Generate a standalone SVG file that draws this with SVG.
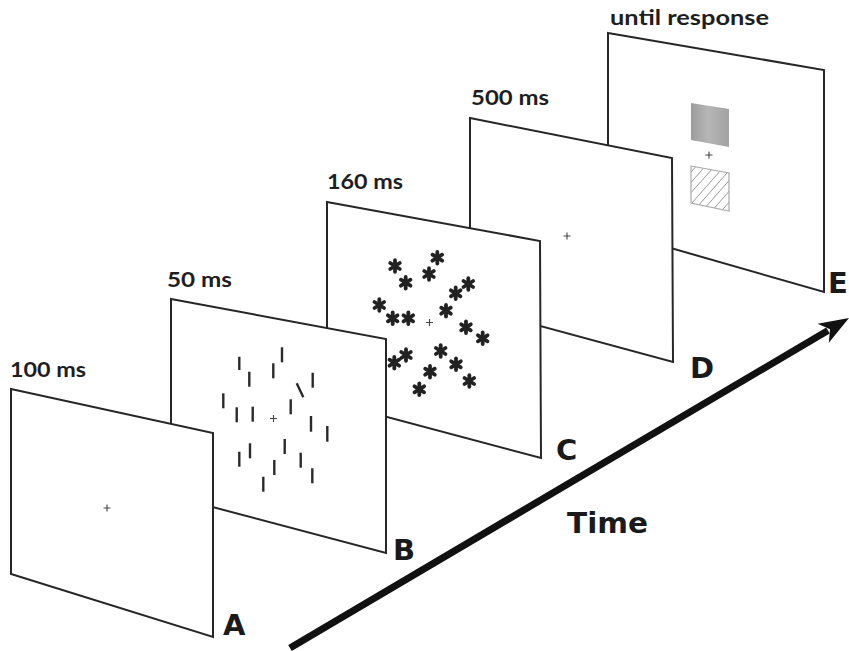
<svg xmlns="http://www.w3.org/2000/svg" width="849" height="651" viewBox="0 0 849 651">
<style>
.panel{fill:#fff;stroke:#262626;stroke-width:2;stroke-linejoin:miter}
.dur{font-family:Lato,"Open Sans","Liberation Sans",sans-serif;font-weight:bold;font-size:20px;fill:#1e1e1e}
.big{font-family:"DejaVu Sans","Liberation Sans",sans-serif;font-weight:bold;font-size:29px;fill:#1a1a1a}
.fix{stroke:#444;stroke-width:1.1;fill:none}
.bar{stroke:#2a2a2a;stroke-width:2.4;stroke-linecap:butt}
.ast{stroke:#222;stroke-width:3.8;stroke-linecap:round}
</style>
<defs>
<g id="star">
<line class="ast" x1="0" y1="-5.8" x2="0" y2="5.8"/>
<line class="ast" x1="-4.8" y1="-3" x2="4.8" y2="3"/>
<line class="ast" x1="-4.8" y1="3" x2="4.8" y2="-3"/>
</g>
<path id="cross" class="fix" d="M-3.5,0H3.5M0,-3.5V3.5"/>
<linearGradient id="grey" x1="0" y1="0" x2="1" y2="0">
<stop offset="0" stop-color="#9c9c9c"/>
<stop offset="0.45" stop-color="#b6b6b6"/>
<stop offset="1" stop-color="#a2a2a2"/>
</linearGradient>
<clipPath id="hclip"><polygon points="691,166 729,173 729,211 691,203"/></clipPath>
</defs>

<g id="panelE">
<polygon class="panel" points="608,33 824,70 824,292 608,230"/>
<polygon points="691,103 729,109 729,147 691,140" fill="url(#grey)"/>
<use href="#cross" x="709" y="155"/>
<g clip-path="url(#hclip)" stroke="#9a9a9a" stroke-width="1">
<line x1="680" y1="185" x2="710" y2="150"/>
<line x1="680" y1="195" x2="715" y2="155"/>
<line x1="680" y1="205" x2="722" y2="158"/>
<line x1="684" y1="212" x2="728" y2="162"/>
<line x1="690" y1="215" x2="734" y2="165"/>
<line x1="697" y1="217" x2="740" y2="168"/>
<line x1="704" y1="220" x2="745" y2="173"/>
<line x1="711" y1="223" x2="750" y2="178"/>
<line x1="718" y1="226" x2="755" y2="183"/>
<line x1="725" y1="229" x2="760" y2="188"/>
</g>
<polygon points="691,166 729,173 729,211 691,203" fill="none" stroke="#aaa" stroke-width="1.2"/>
</g>

<g id="panelD">
<polygon class="panel" points="470,118 672,158 673,362 470,307"/>
<use href="#cross" x="567" y="236"/>
</g>

<g id="panelC">
<polygon class="panel" points="327,202 540,241 541,458 327,401"/>
<use href="#cross" x="429.5" y="322.5"/>
<use href="#star" x="395" y="266"/>
<use href="#star" x="405.7" y="282.7"/>
<use href="#star" x="437.3" y="257.7"/>
<use href="#star" x="429" y="274"/>
<use href="#star" x="468.3" y="284"/>
<use href="#star" x="455.7" y="293.3"/>
<use href="#star" x="379.3" y="305"/>
<use href="#star" x="392.7" y="318.3"/>
<use href="#star" x="408.3" y="318.3"/>
<use href="#star" x="446" y="310.7"/>
<use href="#star" x="466" y="327.3"/>
<use href="#star" x="482.7" y="338.3"/>
<use href="#star" x="406" y="355"/>
<use href="#star" x="394.3" y="362.7"/>
<use href="#star" x="440.7" y="351"/>
<use href="#star" x="430" y="371.7"/>
<use href="#star" x="456" y="364.3"/>
<use href="#star" x="469.3" y="381"/>
<use href="#star" x="419.3" y="389.3"/>
</g>

<g id="panelB">
<polygon class="panel" points="171,299 386,339 386,553 171,496"/>
<use href="#cross" x="273.5" y="418.5"/>
<line class="bar" x1="239.3" y1="356.7" x2="239.3" y2="370"/>
<line class="bar" x1="249.3" y1="371.7" x2="249.3" y2="386.7"/>
<line class="bar" x1="282" y1="347.3" x2="282" y2="362.3"/>
<line class="bar" x1="273.3" y1="363.3" x2="273.3" y2="378.3"/>
<line class="bar" x1="312.7" y1="372.7" x2="312.7" y2="387.7"/>
<line class="bar" x1="296.7" y1="383.3" x2="303.3" y2="397.3"/>
<line class="bar" x1="223.3" y1="393.3" x2="223.3" y2="408.3"/>
<line class="bar" x1="236.7" y1="407.3" x2="236.7" y2="422.3"/>
<line class="bar" x1="252.7" y1="406.7" x2="252.7" y2="421.7"/>
<line class="bar" x1="290.7" y1="399.3" x2="290.7" y2="414.3"/>
<line class="bar" x1="311" y1="416" x2="311" y2="431.7"/>
<line class="bar" x1="327.3" y1="426" x2="327.3" y2="441.7"/>
<line class="bar" x1="250" y1="443.3" x2="250" y2="458.3"/>
<line class="bar" x1="239.3" y1="451.7" x2="239.3" y2="466.7"/>
<line class="bar" x1="284.7" y1="439" x2="284.7" y2="454"/>
<line class="bar" x1="274.3" y1="460" x2="274.3" y2="475"/>
<line class="bar" x1="300.7" y1="452.7" x2="300.7" y2="467.7"/>
<line class="bar" x1="312.3" y1="468.3" x2="312.3" y2="483.3"/>
<line class="bar" x1="263.3" y1="476.7" x2="263.3" y2="491.7"/>
</g>

<g id="panelA">
<polygon class="panel" points="11,389 213,433 213,637 11,574"/>
<use href="#cross" x="107" y="508"/>
</g>

<g id="labels">
<text class="dur" x="10" y="377" textLength="76" lengthAdjust="spacingAndGlyphs">100 ms</text>
<text class="dur" x="167" y="287" textLength="65" lengthAdjust="spacingAndGlyphs">50 ms</text>
<text class="dur" x="327" y="189" textLength="76" lengthAdjust="spacingAndGlyphs">160 ms</text>
<text class="dur" x="471" y="105" textLength="78" lengthAdjust="spacingAndGlyphs">500 ms</text>
<text class="dur" x="610" y="25" textLength="159" lengthAdjust="spacingAndGlyphs">until response</text>
<text class="big" x="223" y="635">A</text>
<text class="big" x="393" y="560">B</text>
<text class="big" x="556" y="460">C</text>
<text class="big" x="690" y="378">D</text>
<text class="big" x="828" y="293">E</text>
<text class="big" x="567" y="533" textLength="81" lengthAdjust="spacingAndGlyphs">Time</text>
</g>

<g id="connectors">
<line x1="290" y1="648" x2="828" y2="330.5" stroke="#111" stroke-width="7"/>
<polygon points="849,318 828.8,342.7 830,329.2 817.6,323.7" fill="#111"/>
</g>
</svg>
